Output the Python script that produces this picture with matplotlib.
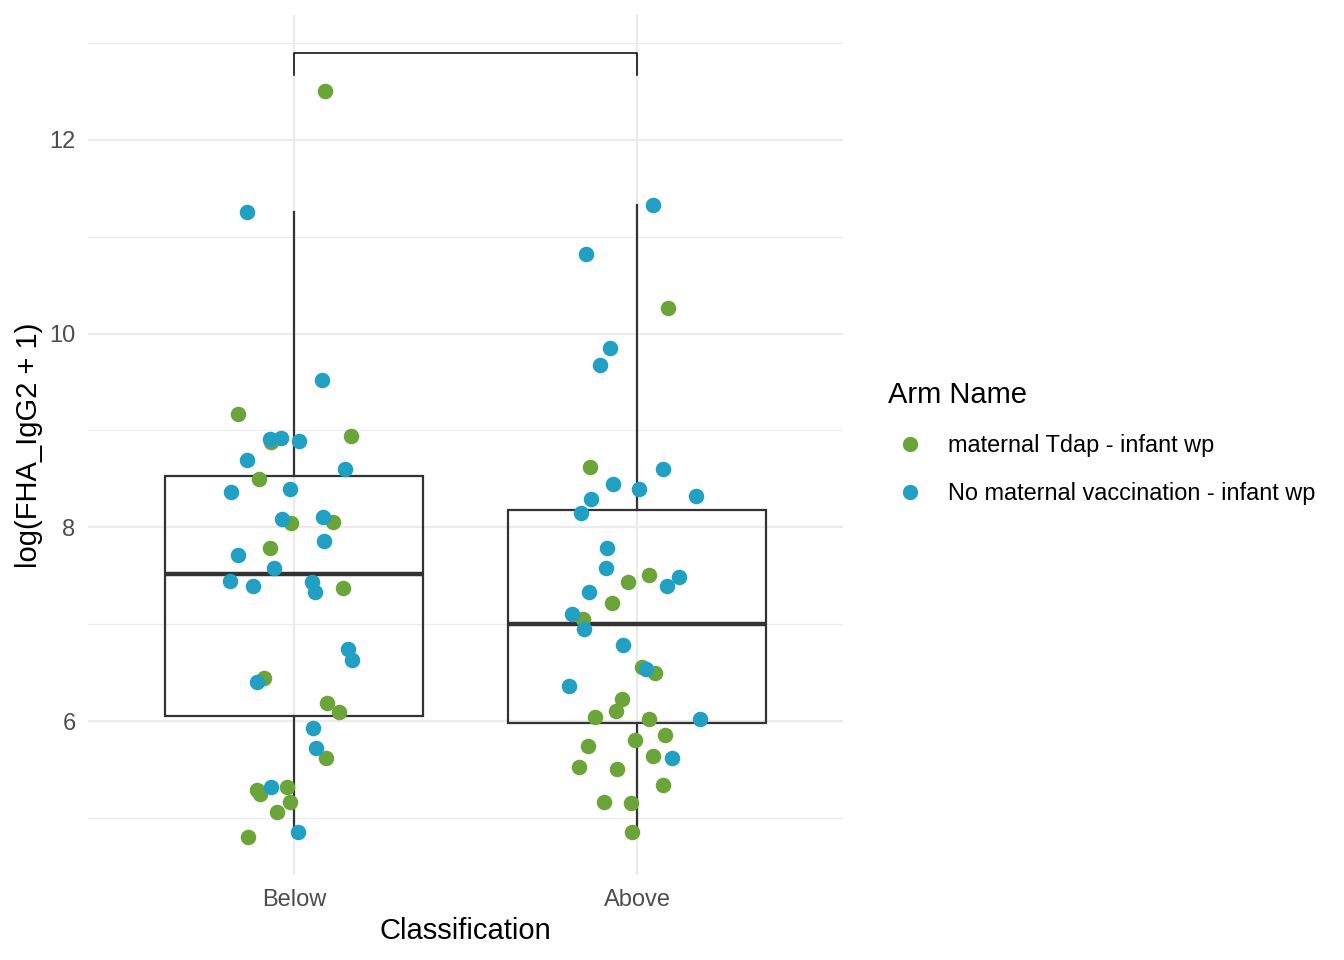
import matplotlib
matplotlib.use("Agg")
import matplotlib.pyplot as plt
from matplotlib.lines import Line2D
import numpy as np

plt.rcParams['font.family'] = ['Liberation Sans', 'DejaVu Sans']

# categories and arms
classes = ['Below', 'Above']
arms = ['maternal Tdap - infant wp', 'No maternal vaccination - infant wp']
arm_colors = ['#6BA53A', '#21A0C4']

# per-point data: log value, arm (0 = Tdap, 1 = none), jitter offset
below_val = [12.506, 11.256, 9.521, 9.170, 8.912, 8.881, 8.922, 8.892, 8.943, 8.695,
             8.602, 8.499, 8.365, 8.396, 8.086, 8.045, 8.107, 8.055, 7.859, 7.787,
             7.714, 7.580, 7.446, 7.394, 7.435, 7.332, 7.373, 6.743, 6.630, 6.444,
             6.403, 6.186, 6.093, 5.928, 5.721, 5.618, 5.287, 5.246, 5.318, 5.318,
             5.163, 5.060, 4.802, 4.854]
below_arm = [0, 1, 1, 0, 1, 0, 1, 1, 0, 1,
             1, 0, 1, 1, 1, 0, 1, 0, 1, 0,
             1, 1, 1, 1, 1, 1, 0, 1, 1, 0,
             1, 0, 0, 1, 1, 0, 0, 0, 1, 0,
             0, 0, 0, 1]
below_jit = [0.090, -0.137, 0.082, -0.163, -0.070, -0.067, -0.038, 0.015, 0.166, -0.137,
             0.149, -0.102, -0.184, -0.012, -0.035, -0.009, 0.085, 0.114, 0.087, -0.070,
             -0.163, -0.058, -0.187, -0.120, 0.052, 0.061, 0.143, 0.157, 0.169, -0.087,
             -0.108, 0.096, 0.131, 0.055, 0.064, 0.093, -0.108, -0.099, -0.067, -0.020,
             -0.012, -0.050, -0.134, 0.012]

above_val = [11.329, 10.823, 10.265, 9.852, 9.676, 8.623, 8.602, 8.447, 8.396, 8.292,
             8.323, 8.148, 7.787, 7.580, 7.435, 7.508, 7.487, 7.394, 7.332, 7.218,
             7.105, 7.053, 6.950, 6.785, 6.558, 6.537, 6.496, 6.362, 6.228, 6.105,
             6.043, 6.022, 6.022, 5.855, 5.804, 5.742, 5.639, 5.618, 5.525, 5.504,
             5.339, 5.163, 5.153, 4.854]
above_arm = [1, 1, 0, 1, 1, 0, 1, 1, 1, 1,
             1, 1, 1, 1, 0, 0, 1, 1, 1, 0,
             1, 0, 1, 1, 0, 1, 0, 1, 0, 0,
             0, 0, 1, 0, 0, 0, 0, 1, 0, 0,
             0, 0, 0, 0]
above_jit = [0.047, -0.149, 0.090, -0.079, -0.108, -0.137, 0.076, -0.070, 0.006, -0.134,
             0.172, -0.163, -0.087, -0.090, -0.026, 0.035, 0.122, 0.087, -0.140, -0.073,
             -0.190, -0.157, -0.155, -0.041, 0.015, 0.026, 0.052, -0.198, -0.044, -0.061,
             -0.122, 0.035, 0.184, 0.082, -0.006, -0.143, 0.047, 0.102, -0.169, -0.058,
             0.076, -0.096, -0.017, -0.015]

# significance bracket (no label)
bracket_top = 12.90
bracket_tip = 12.67

vals = [below_val, above_val]
arm_ids = [below_arm, above_arm]
jits = [below_jit, above_jit]

fig = plt.figure(figsize=(13.44, 9.6), dpi=100)
ax = fig.add_axes([88/1344, 85/960, 755/1344, 860/960])

pos = np.arange(1, len(classes) + 1)

ax.boxplot(vals, positions=pos, widths=0.75, showfliers=False, patch_artist=True,
           boxprops=dict(facecolor='none', edgecolor='#333333', linewidth=1.6),
           medianprops=dict(color='#333333', linewidth=3.2),
           whiskerprops=dict(color='#333333', linewidth=1.6),
           capprops=dict(linewidth=0), zorder=2)

for i in range(len(classes)):
    v = np.array(vals[i])
    a = np.array(arm_ids[i])
    j = np.array(jits[i])
    for k in range(len(arms)):
        m = a == k
        ax.scatter(pos[i] + j[m], v[m], s=125, color=arm_colors[k], linewidths=0,
                   zorder=3 + k)

# bracket
ax.plot([pos[0], pos[0], pos[1], pos[1]],
        [bracket_tip, bracket_top, bracket_top, bracket_tip],
        color='black', linewidth=1.1, zorder=4)

ax.set_xlim(0.4, 2.6)
ax.set_ylim(4.41, 13.29)
ax.set_xticks(pos)
ax.set_xticklabels(classes)
ax.set_yticks([6, 8, 10, 12])
ax.set_yticks([5, 7, 9, 11, 13], minor=True)
ax.grid(True, which='major', color='#EBEBEB', linewidth=1.6, zorder=0)
ax.grid(True, which='minor', axis='y', color='#EBEBEB', linewidth=0.8, zorder=0)
ax.set_axisbelow(True)
for s in ax.spines.values():
    s.set_visible(False)
ax.tick_params(which='both', length=0, labelsize=17, labelcolor='#4D4D4D')
ax.tick_params(axis='x', pad=10)
ax.tick_params(axis='y', pad=9)

ax.set_xlabel('Classification', fontsize=21, labelpad=4.5)
ax.set_ylabel('log(FHA_IgG2 + 1)', fontsize=21, labelpad=4.5)

handles = [Line2D([], [], marker='o', linestyle='none', markersize=11,
                  markerfacecolor=c, markeredgewidth=0) for c in arm_colors]
leg = fig.legend(handles, arms, title='Arm Name', loc='upper left',
                 bbox_to_anchor=(888/1344, 1 - 381/960), frameon=False,
                 fontsize=16.9, title_fontsize=21, alignment='left',
                 labelspacing=1.06, handletextpad=0.68, handlelength=1.86,
                 borderpad=0, borderaxespad=0)

fig.savefig('out.png', dpi=100)
